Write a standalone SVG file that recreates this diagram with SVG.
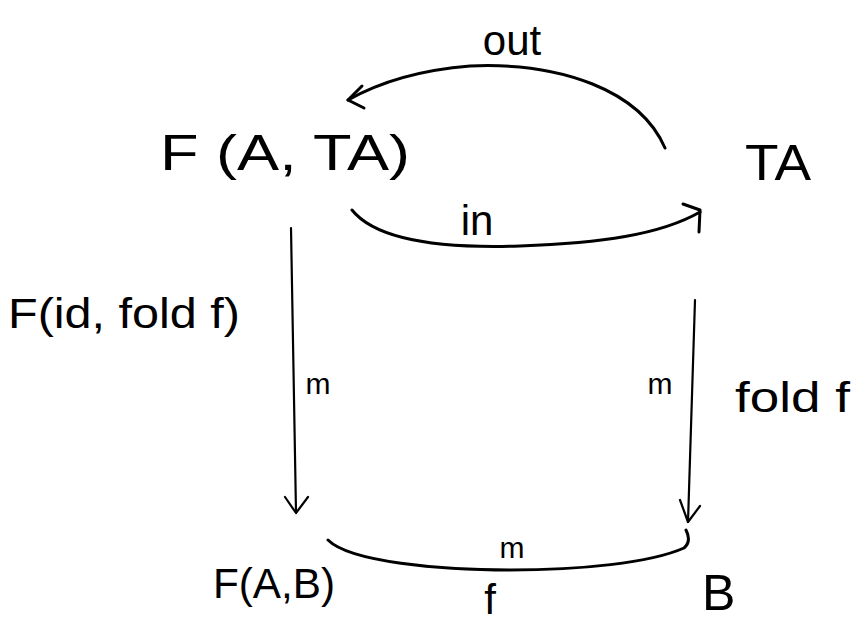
<svg xmlns="http://www.w3.org/2000/svg" width="854" height="637" viewBox="0 0 854 637">
<defs>
<style>
.t{font-family:"Liberation Sans",Arial,sans-serif;fill:#000;}
.big{font-size:50px;}
.mid{font-size:42px;}
.sm{font-size:30px;}
.c{fill:none;stroke:#000;stroke-width:3;stroke-linecap:round;stroke-linejoin:round;}
.th{stroke-width:2.2;}
</style>
</defs>
<rect width="854" height="637" fill="#fff"/>
<g id="connectors">
<g id="out">
<path class="c" d="M665,148 C640,90 560,62 470,66 C420,70 380,82 348,100"/>
<path class="c" d="M362,86 L348,100 L364,108"/>
</g>
<g id="in">
<path class="c" d="M352,210 C380,245 460,248 520,246 C600,243 660,235 700,212"/>
<path class="c" d="M683,204 L700,210 L699,232"/>
</g>
<g id="left">
<path class="c th" d="M291,228 L296,512"/>
<path class="c th" d="M285,497 L296,513 L308,497"/>
</g>
<g id="right">
<path class="c th" d="M695,300 L688,522"/>
<path class="c th" d="M680,500 L688,522 L700,506"/>
</g>
<g id="bottom">
<path class="c" d="M328,540 C350,562 440,570 510,570 C580,570 650,563 684,548 C690,543 689,536 686,530"/>
</g>
</g>
<g id="n-FATA"><text class="t big" x="160" y="170" textLength="250" lengthAdjust="spacingAndGlyphs">F (A, TA)</text></g>
<g id="n-TA"><text class="t big" x="745" y="180" textLength="66" lengthAdjust="spacingAndGlyphs">TA</text></g>
<g id="n-FAB"><text class="t mid" x="213" y="598" textLength="122" lengthAdjust="spacingAndGlyphs">F(A,B)</text></g>
<g id="n-B"><text class="t big" x="702" y="610">B</text></g>
<g id="labels">
<text class="t mid" x="512" y="55" text-anchor="middle">out</text>
<text class="t mid" x="477" y="235" text-anchor="middle">in</text>
<text class="t mid" x="8" y="328" textLength="232" lengthAdjust="spacingAndGlyphs">F(id, fold f)</text>
<text class="t mid" x="735" y="412" textLength="115" lengthAdjust="spacingAndGlyphs">fold f</text>
<text class="t sm" x="318" y="394" text-anchor="middle">m</text>
<text class="t sm" x="660" y="394" text-anchor="middle">m</text>
<text class="t sm" x="512" y="558" text-anchor="middle">m</text>
<text class="t mid" x="490" y="614" text-anchor="middle">f</text>
</g>
</svg>
